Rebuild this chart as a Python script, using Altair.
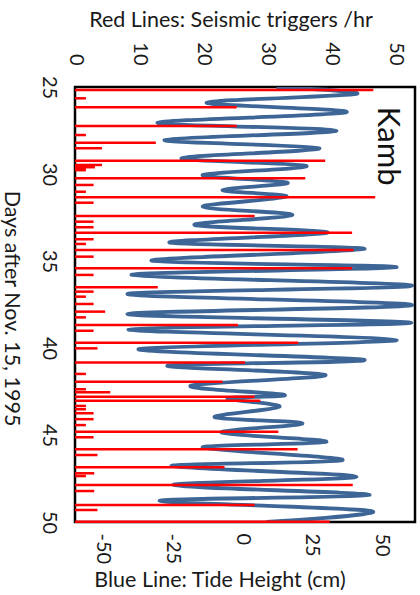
import altair as alt
import pandas as pd

# Tide curve: extremes (peaks / troughs)
tide_day = [25.00, 25.40, 25.90, 26.45, 27.05, 27.51, 28.05, 28.52, 29.10, 29.54,
            30.06, 30.50, 30.92, 31.30, 31.88, 32.36, 32.93, 33.37, 33.94, 34.31,
            34.98, 35.36, 35.80, 36.42, 36.90, 37.53, 38.05, 38.55, 38.93, 39.54,
            40.07, 40.69, 41.02, 41.55, 42.17, 42.70, 42.90, 43.37, 43.98, 44.33,
            44.86, 45.39, 45.72, 46.44, 46.78, 47.40, 47.87, 48.45, 48.78, 49.37,
            50.00]
tide_cm = [12.3, 41.0, -12.8, 37.4, -30.4, 33.8, -27.9, 27.7, -21.8, 23.1,
           -14.2, 16.3, -7.1, 15.9, -14.2, 18.0, -17.1, 30.6, -26.1, 43.9,
           -32.5, 55.4, -39.7, 61.0, -41.2, 61.0, -41.2, 60.7, -40.8, 55.4,
           -37.2, 43.9, -26.8, 29.9, -18.5, 15.2, -5.3, 13.4, -9.9, 21.6,
           -7.4, 30.2, -14.2, 36.0, -25.4, 41.0, -24.7, 45.7, -29.7, 46.4,
           8.7]

# Seismic triggers per hour
trig_day = [25.17, 25.65, 26.17, 27.24, 27.76, 28.20, 28.52, 29.24, 29.48, 29.61,
            29.70, 29.78, 30.25, 30.63, 31.02, 31.34, 31.65, 32.41, 32.74, 33.06,
            33.37, 33.75, 34.02, 34.37, 34.75, 35.42, 35.80, 36.51, 36.76, 37.05,
            37.47, 37.91, 38.24, 38.68, 39.01, 39.70, 40.02, 40.84, 41.49, 41.94,
            42.37, 42.55, 42.80, 43.03, 43.33, 43.52, 43.75, 44.09, 44.43, 44.81,
            45.13, 45.82, 46.15, 46.86, 47.20, 47.36, 47.87, 48.22, 49.02, 49.31,
            49.98]
trig_val = [46.5, 1.7, 25.2, 25.2, 1.7, 12.6, 4.2, 39.0, 4.2, 3.1,
            1.7, 1.7, 35.9, 2.9, 1.7, 46.8, 2.9, 28.0, 2.9, 2.9,
            43.2, 2.9, 1.7, 43.4, 2.9, 43.2, 2.9, 12.9, 2.9, 1.7,
            2.9, 4.7, 1.7, 25.4, 2.9, 34.8, 3.5, 26.5, 1.7, 23.0,
            1.7, 5.5, 28.0, 28.9, 1.7, 1.7, 2.9, 2.9, 1.7, 31.7,
            2.9, 34.7, 3.5, 23.3, 3.0, 1.7, 43.3, 3.0, 28.0, 3.5,
            39.7]

day_ticks = [25, 30, 35, 40, 45, 50]
tide_ticks = [-50, -25, 0, 25, 50]
trig_ticks = [0, 10, 20, 30, 40, 50]

tide_df = pd.DataFrame({"day": tide_day, "tide": tide_cm})
trig_df = pd.DataFrame({"day": trig_day, "trig": trig_val})
label_df = pd.DataFrame({"day": [28.4], "tide": [52.0], "text": ["Kamb"]})

FONT = "Lato"
W, H = 340, 435

y_enc = alt.Y("day:Q",
              scale=alt.Scale(domain=[25, 50], reverse=True, nice=False, zero=False),
              axis=alt.Axis(values=day_ticks, title="Days after Nov. 15, 1995",
                            labelAngle=90, labelAlign="center", labelBaseline="top",
                            labelPadding=17, tickSize=0, ticks=False, domain=False, grid=False,
                            titleAngle=90, titleX=-65, titleY=221, titleAlign="center",
                            titleBaseline="middle"))

tide_scale = alt.Scale(domain=[-60, 62], nice=False, zero=False)

blue = alt.Chart(tide_df).mark_line(color="#3D6596", strokeWidth=3.8,
                                     interpolate="cardinal", clip=True).encode(
    x=alt.X("tide:Q", scale=tide_scale,
            axis=alt.Axis(values=tide_ticks, title="Blue Line: Tide Height (cm)", orient="bottom",
                          labelExpr="datum.value + ''",
                          labelAngle=90, labelAlign="left", labelBaseline="middle",
                          labelPadding=11, tickSize=0, ticks=False, domain=False, grid=False,
                          titleX=144.5, titleY=58, titleAlign="center", titleBaseline="middle")),
    y=y_enc,
    order=alt.Order("day:Q"),
)

kamb = alt.Chart(label_df).mark_text(font=FONT, fontSize=31, angle=90, color="#111111",
                                     align="center", baseline="middle").encode(
    x=alt.X("tide:Q"),
    y=alt.Y("day:Q"),
    text="text:N",
)

red = alt.Chart(trig_df).mark_rule(color="#FF0000", strokeWidth=2.5).encode(
    x=alt.X("trig:Q", scale=alt.Scale(domain=[0, 53], nice=False, zero=False),
            axis=alt.Axis(values=trig_ticks, title="Red Lines: Seismic triggers /hr", orient="top",
                          labelAngle=90, labelAlign="right", labelBaseline="middle",
                          labelPadding=22, tickSize=0, ticks=False, domain=False, grid=False,
                          titleX=155.5, titleY=-67, titleAlign="center", titleBaseline="middle")),
    x2=alt.datum(0),
    y=alt.Y("day:Q"),
)

tide_layer = alt.layer(blue, kamb)

chart = alt.layer(tide_layer, red).resolve_scale(x="independent").properties(
    width=W, height=H,
    autosize=alt.AutoSizeParams(type="none"),
    padding={"left": 75, "top": 87, "right": 5, "bottom": 73},
).configure_view(stroke="black", strokeWidth=2.5).configure_axis(
    labelFont=FONT, titleFont=FONT, labelFontSize=20, titleFontSize=21.5,
    labelColor="#1a1a1a", titleColor="#1a1a1a", titleFontWeight="normal",
)

chart.save("out.html", embed_options={"renderer": "svg", "actions": False})
